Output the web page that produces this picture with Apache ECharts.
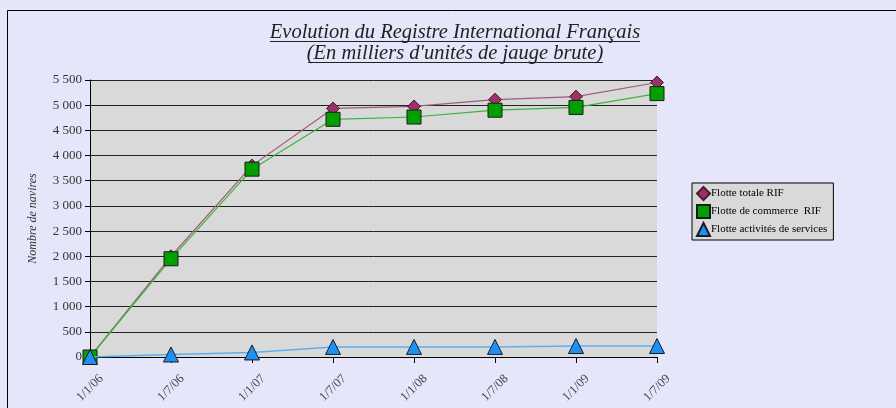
<!DOCTYPE html>
<html>
<head>
<meta charset="utf-8">
<script src="https://cdn.jsdelivr.net/npm/echarts@6/dist/echarts.min.js"></script>
<style>
  html, body { margin: 0; padding: 0; background: #e6e6fa; }
  #chart { width: 896px; height: 408px; }
</style>
</head>
<body>
<div id="chart"></div>
<script>
// données
const dates = ['1/1/06', '1/7/06', '1/1/07', '1/7/07', '1/1/08', '1/7/08', '1/1/09', '1/7/09'];
const flotteTotale = [0, 2000, 3800, 4935, 4975, 5110, 5170, 5450];
const flotteCommerce = [0, 1950, 3730, 4720, 4765, 4900, 4955, 5230];
const flotteServices = [0, 50, 90, 200, 200, 200, 218, 218];
const yTicks = { min: 0, max: 5500, interval: 500 };

const serif = '"Liberation Serif", "DejaVu Serif", serif';

function fmtThousands(v) {
    return String(v).replace(/\B(?=(\d{3})+(?!\d))/g, ' ');
}

const chart = echarts.init(document.getElementById('chart'));
chart.setOption({
    backgroundColor: '#e6e6fa',
    animation: false,
    title: {
        text: '{u|Evolution du Registre International Français}\n{u|(En milliers d\'unités de jauge brute)}',
        left: 450,
        textAlign: 'center',
        top: 17,
        textStyle: {
            rich: {
                u: {
                    fontFamily: serif, fontStyle: 'italic', fontWeight: 'normal',
                    fontSize: 20.5, color: '#222', lineHeight: 21
                }
            }
        }
    },
    graphic: [
        {
            type: 'rect', shape: { x: 7.5, y: 10.5, width: 900, height: 420 },
            style: { fill: 'none', stroke: '#000', lineWidth: 1 }, z: 0
        },
        // soulignement du titre
        { type: 'line', shape: { x1: 270, y1: 41.5, x2: 640, y2: 41.5 }, style: { stroke: '#222', lineWidth: 1 } },
        { type: 'line', shape: { x1: 308, y1: 62.5, x2: 603, y2: 62.5 }, style: { stroke: '#222', lineWidth: 1 } }
    ],
    legend: {
        orient: 'vertical',
        left: 692,
        top: 183,
        backgroundColor: '#d9d9d9',
        borderColor: '#000',
        borderWidth: 1,
        padding: [3, 6, 3, 4],
        itemGap: 3,
        itemWidth: 13,
        itemHeight: 13,
        textStyle: { fontFamily: serif, fontSize: 11, color: '#000', padding: [0, 0, 0, -4] },
        data: [
            { name: 'Flotte totale RIF', icon: 'diamond' },
            { name: 'Flotte de commerce  RIF', icon: 'rect' },
            { name: 'Flotte activités de services', icon: 'triangle' }
        ]
    },
    grid: {
        left: 90, right: 239, top: 80, bottom: 51,
        show: true, backgroundColor: '#d9d9d9', borderWidth: 0
    },
    xAxis: {
        type: 'category',
        data: dates,
        boundaryGap: false,
        axisLine: { lineStyle: { color: '#000', width: 1 } },
        axisTick: { show: true, length: 6, lineStyle: { color: '#000' } },
        axisLabel: {
            rotate: 45, fontFamily: serif, fontSize: 12.5, color: '#444',
            align: 'center', verticalAlign: 'middle', margin: 31
        }
    },
    yAxis: {
        type: 'value',
        min: yTicks.min,
        max: yTicks.max,
        interval: yTicks.interval,
        name: 'Nombre de navires',
        nameLocation: 'middle',
        nameGap: 51,
        nameTextStyle: { fontFamily: serif, fontStyle: 'italic', fontSize: 12, color: '#333' },
        axisLine: { show: true, lineStyle: { color: '#000', width: 1 } },
        axisTick: { show: true, length: 5, lineStyle: { color: '#000' } },
        axisLabel: {
            fontFamily: serif, fontSize: 13, color: '#333', margin: 8,
            formatter: fmtThousands
        },
        splitLine: { show: true, lineStyle: { color: '#222', width: 1 } }
    },
    series: [
        {
            name: 'Flotte totale RIF',
            type: 'line',
            data: flotteTotale,
            symbol: 'diamond',
            symbolSize: 13,
            itemStyle: { color: '#993366', borderColor: '#4a1a33', borderWidth: 1 },
            lineStyle: { color: '#a05a7e', width: 1.2 },
            z: 3
        },
        {
            name: 'Flotte de commerce  RIF',
            type: 'line',
            data: flotteCommerce,
            symbol: 'rect',
            symbolSize: 14,
            itemStyle: { color: '#00a000', borderColor: '#1a1a1a', borderWidth: 1 },
            lineStyle: { color: '#3cb43c', width: 1.2 },
            z: 4
        },
        {
            name: 'Flotte activités de services',
            type: 'line',
            data: flotteServices,
            symbol: 'triangle',
            symbolSize: 15,
            itemStyle: { color: '#1e90f0', borderColor: '#1a1a2a', borderWidth: 1 },
            lineStyle: { color: '#5ab0f0', width: 1.5 },
            z: 5
        }
    ]
});
</script>
</body>
</html>
